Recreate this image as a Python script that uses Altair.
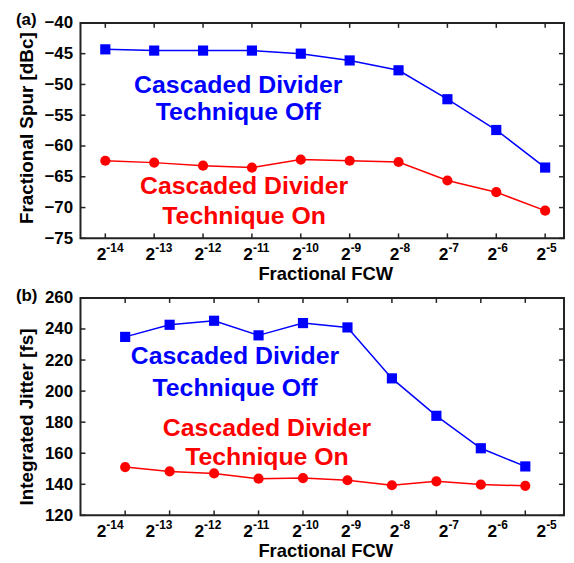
import altair as alt
import pandas as pd

# ---------------- data ----------------
exps = [-14, -13, -12, -11, -10, -9, -8, -7, -6, -5]
exp_labels = ["-14", "-13", "-12", "-11", "-10", "-9", "-8", "-7", "-6", "-5"]

spur_off = [-44.3, -44.5, -44.5, -44.5, -45.0, -46.1, -47.7, -52.4, -57.4, -63.5]
spur_on = [-62.4, -62.7, -63.2, -63.5, -62.2, -62.4, -62.6, -65.6, -67.5, -70.5]

jit_off = [234.9, 242.7, 245.3, 235.9, 243.8, 241.0, 208.2, 184.1, 163.2, 151.5]
jit_on = [151.1, 148.3, 147.0, 143.6, 144.0, 142.6, 139.4, 141.9, 139.8, 139.0]

spur_ticks = [-75, -70, -65, -60, -55, -50, -45, -40]
jit_ticks = [120, 140, 160, 180, 200, 220, 240, 260]

series_names = ["off", "on"]
series_colors = ["#0000ff", "#ff0000"]
series_shapes = ["square", "circle"]

ann_text = ["Cascaded Divider", "Technique Off", "Cascaded Divider", "Technique On"]
ann_series = ["off", "off", "on", "on"]
ann_a_x = [-11.28, -11.28, -11.16, -11.16]
ann_a_y = [-51.4, -55.8, -67.8, -72.6]
ann_b_x = [-11.53, -11.53, -10.81, -10.81]
ann_b_y = [217.2, 196.9, 171.3, 152.1]

FONT = "Liberation Sans"
W = 487
HA = 217
HB = 219

color_scale = alt.Scale(domain=series_names, range=series_colors)
shape_scale = alt.Scale(domain=series_names, range=series_shapes)


def long_df(a, b):
    return pd.DataFrame({
        "exp": exps + exps,
        "val": a + b,
        "series": ["off"] * len(exps) + ["on"] * len(exps),
    })


def panel(df, ann, y_dom, y_ticks, H, x_dom_data, x_dom_lab, ytitle, tag, ytitle_dy, tag_y):
    xs = alt.Scale(domain=x_dom_data, nice=False, zero=False)
    xl = alt.Scale(domain=x_dom_lab, nice=False, zero=False)
    ys = alt.Scale(domain=y_dom, nice=False, zero=False)
    yaxis = alt.Axis(values=y_ticks, ticks=False, tickSize=0, domain=False, grid=False,
                     labelFont=FONT, labelFontSize=17, labelFontWeight="bold",
                     labelColor="black", labelPadding=8, labelFlush=False,
                     labelOverlap=False, labelBound=False, title=None)
    base = alt.Chart(df)
    lines = base.mark_line(strokeWidth=1.5).encode(
        x=alt.X("exp:Q", scale=xs, axis=None),
        y=alt.Y("val:Q", scale=ys, axis=yaxis),
        color=alt.Color("series:N", scale=color_scale, legend=None),
    )
    pts = base.mark_point(filled=True, opacity=1, size=105).encode(
        x=alt.X("exp:Q", scale=xs, axis=None),
        y=alt.Y("val:Q", scale=ys, axis=yaxis),
        color=alt.Color("series:N", scale=color_scale, legend=None),
        shape=alt.Shape("series:N", scale=shape_scale, legend=None),
    )
    xt = pd.DataFrame({"exp": exps, "lab": exp_labels})
    yt = pd.DataFrame({"v": y_ticks})
    tick_style = dict(color="#222222", strokeWidth=1.5)
    bt = alt.Chart(xt).mark_rule(**tick_style).encode(
        x=alt.X("exp:Q", scale=xs, axis=None), y=alt.value(H - 5), y2=alt.value(H))
    tt = alt.Chart(xt).mark_rule(**tick_style).encode(
        x=alt.X("exp:Q", scale=xs, axis=None), y=alt.value(0), y2=alt.value(5))
    lt = alt.Chart(yt).mark_rule(**tick_style).encode(
        y=alt.Y("v:Q", scale=ys, axis=yaxis), x=alt.value(0), x2=alt.value(5))
    rt = alt.Chart(yt).mark_rule(**tick_style).encode(
        y=alt.Y("v:Q", scale=ys, axis=yaxis), x=alt.value(W - 5), x2=alt.value(W))
    base2 = alt.Chart(xt).mark_text(align="right", baseline="alphabetic", dx=1,
                                     font=FONT, fontSize=17.5, fontWeight="bold",
                                     color="black").encode(
        x=alt.X("exp:Q", scale=xl, axis=None), y=alt.value(H + 22), text=alt.value("2"))
    sup = alt.Chart(xt).mark_text(align="left", baseline="alphabetic", dx=1,
                                   font=FONT, fontSize=12, fontWeight="bold",
                                   color="black").encode(
        x=alt.X("exp:Q", scale=xl, axis=None), y=alt.value(H + 13.5), text="lab:N")
    ann_layer = alt.Chart(ann).mark_text(align="center", baseline="alphabetic",
                                         font=FONT, fontSize=25, fontWeight="bold").encode(
        x=alt.X("exp:Q", scale=xs, axis=None),
        y=alt.Y("val:Q", scale=ys, axis=yaxis),
        text="text:N",
        color=alt.Color("series:N", scale=color_scale, legend=None),
    )
    tdf = pd.DataFrame({"t": [ytitle]})
    ytl = alt.Chart(tdf).mark_text(angle=270, align="center", baseline="middle",
                                   font=FONT, fontSize=19, fontWeight="bold",
                                   color="black").encode(
        x=alt.value(-54), y=alt.value(H / 2 + ytitle_dy), text="t:N")
    xdf = pd.DataFrame({"t": ["Fractional FCW"]})
    xtl = alt.Chart(xdf).mark_text(align="center", baseline="alphabetic",
                                   font=FONT, fontSize=18.5, fontWeight="bold",
                                   color="black").encode(
        x=alt.value(247), y=alt.value(H + 42), text="t:N")
    gdf = pd.DataFrame({"t": [tag]})
    tagl = alt.Chart(gdf).mark_text(align="left", baseline="alphabetic",
                                    font=FONT, fontSize=17, fontWeight="bold",
                                    color="black").encode(
        x=alt.value(-65), y=alt.value(tag_y), text="t:N")
    return alt.layer(lines, pts, bt, tt, lt, rt, base2, sup, ann_layer, ytl, xtl, tagl).resolve_scale(
        x="independent").properties(width=W, height=H)


ann_a = pd.DataFrame({"exp": ann_a_x, "val": ann_a_y, "text": ann_text, "series": ann_series})
ann_b = pd.DataFrame({"exp": ann_b_x, "val": ann_b_y, "text": ann_text, "series": ann_series})

pa = panel(long_df(spur_off, spur_on), ann_a, [-75, -40], spur_ticks, HA,
           [-14.508, -4.614], [-14.508, -4.614], "Fractional Spur [dBc]", "(a)", -2.5, 2)
pb = panel(long_df(jit_off, jit_on), ann_b, [120, 260], jit_ticks, HB,
           [-15.005, -4.129], [-14.508, -4.614], "Integrated Jitter [fs]", "(b)", 10.5, 3)

chart = alt.vconcat(pa, pb, spacing=60, bounds="flush").properties(
    padding={"left": 7, "top": 0, "right": 0, "bottom": 0},
    background="white",
).configure_view(stroke="#222222", strokeWidth=2)

chart.save("out.html", embed_options={"renderer": "svg", "actions": False})
